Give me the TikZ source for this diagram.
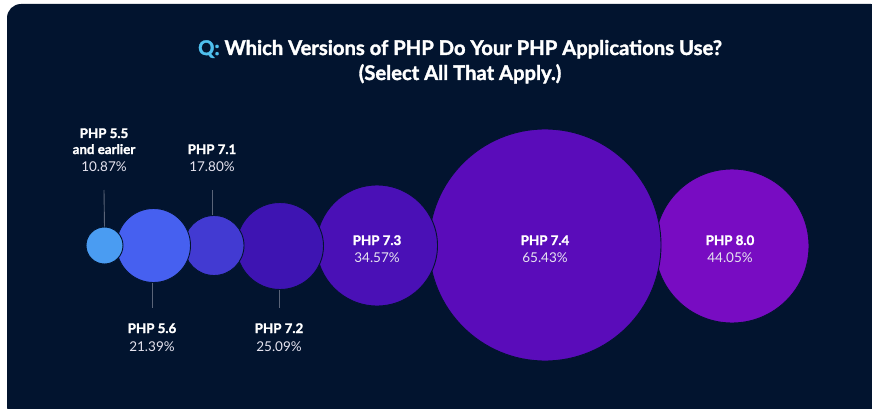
\documentclass[tikz,border=0pt]{standalone}
\usepackage{fontspec}
\setmainfont{Lato}[BoldFeatures={FakeBold=1.6}]
\definecolor{bg}{HTML}{02142F}
\definecolor{qcol}{HTML}{4FC0EE}
\definecolor{lead}{HTML}{5A6478}
\definecolor{cA}{HTML}{4A9CF2}
\definecolor{cB}{HTML}{4660F0}
\definecolor{cC}{HTML}{423AD2}
\definecolor{cD}{HTML}{3E14B2}
\definecolor{cE}{HTML}{4A10B6}
\definecolor{cF}{HTML}{5A0CBA}
\definecolor{cG}{HTML}{780CC2}
\definecolor{pct}{HTML}{E6E4F0}
\tikzset{
  bubble/.style={circle, inner sep=0pt, draw=bg, line width=0.9pt},
  lbl/.style={text=white, font=\bfseries\fontsize{13.3}{15}\selectfont, inner sep=0pt, anchor=base},
  val/.style={text=pct, font=\fontsize{13.5}{15}\selectfont, inner sep=0pt, anchor=base},
  ttl/.style={text=white, font=\bfseries\fontsize{20.2}{22}\selectfont, inner sep=0pt, anchor=base},
  leader/.style={draw=lead, line width=0.9pt},
}
\begin{document}
\begin{tikzpicture}[x=1pt,y=-1pt]
\useasboundingbox (0,0) rectangle (872,409);
\fill[white] (0,0) rectangle (872,409);
\fill[bg, rounded corners=14pt] (7,4) rectangle (885,420);
% title
\node[ttl] (t1) at (460,55) {\textcolor{qcol}{Q:} Which Versions of PHP Do Your PHP Applications Use?};
\node[ttl] (t2) at (460,80) {(Select All That Apply.)};
% bubbles, right to left
\node[bubble, fill=cG, minimum size=154pt] (p80) at (732,246) {};
\node[bubble, fill=cF, minimum size=232pt] (p74) at (545,245) {};
\node[bubble, fill=cE, minimum size=121pt] (p73) at (377,245.5) {};
\node[bubble, fill=cD, minimum size=87pt] (p72) at (280,246) {};
\node[bubble, fill=cC, minimum size=60pt] (p71) at (214,245.5) {};
\node[bubble, fill=cB, minimum size=74pt] (p56) at (153.5,245.5) {};
\node[bubble, fill=cA, minimum size=37pt] (p55) at (104.5,245.5) {};
% inside labels
\node[lbl] (l73) at (377,245) {PHP 7.3};
\node[val] (v73) at (377,262) {34.57\%};
\node[lbl] (l74) at (545,245) {PHP 7.4};
\node[val] (v74) at (545,262) {65.43\%};
\node[lbl] (l80) at (730,245) {PHP 8.0};
\node[val] (v80) at (730,262) {44.05\%};
% outside labels
\node[lbl] (l55a) at (104,138) {PHP 5.5};
\node[lbl] (l55b) at (104,154) {and earlier};
\node[val] (v55) at (104,171) {10.87\%};
\node[lbl] (l71) at (212,154) {PHP 7.1};
\node[val] (v71) at (212,171) {17.80\%};
\node[lbl] (l56) at (152,333) {PHP 5.6};
\node[val] (v56) at (152,351) {21.39\%};
\node[lbl] (l72) at (279,333) {PHP 7.2};
\node[val] (v72) at (279,351) {25.09\%};
% leaders
\coordinate (e55) at (104,190);
\coordinate (e71) at (212,190);
\coordinate (e56) at (152,308);
\coordinate (e72) at (279,308);
\draw[leader] (e55) -- (p55.north);
\draw[leader] (e71) -- (p71.north -| e71);
\draw[leader] (p56.south -| e56) -- (e56);
\draw[leader] (p72.south -| e72) -- (e72);
\end{tikzpicture}
\end{document}
